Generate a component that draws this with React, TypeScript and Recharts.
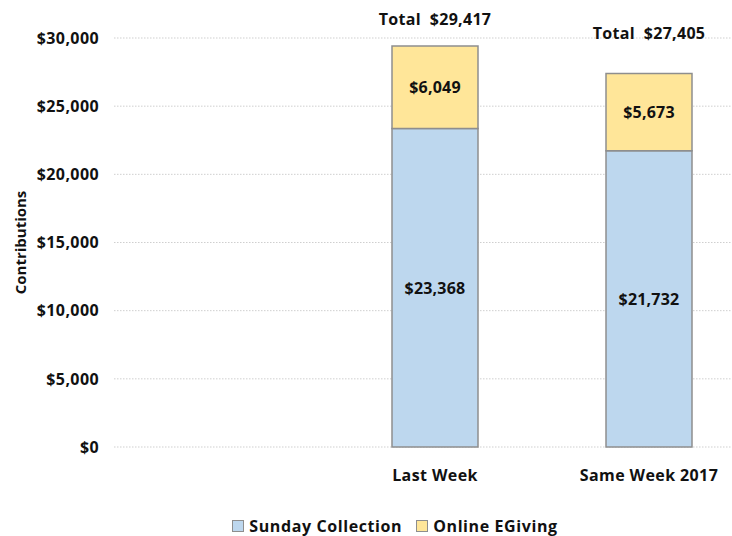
import React from 'react';
import { BarChart, Bar, XAxis, YAxis, CartesianGrid, Legend, LabelList } from 'recharts';

const categories = ['', 'Last Week', 'Same Week 2017'];
const sundayCollection: (number | null)[] = [null, 23368, 21732];
const onlineEGiving: (number | null)[] = [null, 6049, 5673];
const totals: (number | null)[] = [null, 29417, 27405];
const yTicks = [0, 5000, 10000, 15000, 20000, 25000, 30000];

// layout: how far each "Total" label sits above its bar (px), by category
const totalLabelLift = [0, 27, 40];

const FONT = "'Open Sans', 'Liberation Sans', sans-serif";
const BLUE = '#BDD7EE';
const YELLOW = '#FFE699';
const BORDER = '#8E8E8E';
const TEXT = '#111111';

const data = categories.map((c, i) => ({
  name: c,
  sunday: sundayCollection[i],
  online: onlineEGiving[i],
  total: totals[i],
}));

const money = (v: number) => '$' + v.toLocaleString('en-US');

const TotalLabel = (props: any) => {
  const { x, y, width, value } = props;
  if (value == null || x == null) return null;
  const ci = totals.indexOf(Number(value));
  const lift = totalLabelLift[ci] ?? 30;
  return (
    <text
      x={x + width / 2}
      y={y - lift}
      textAnchor="middle"
      dominantBaseline="central"
      fontFamily={FONT}
      fontWeight={700}
      fontSize={16}
      letterSpacing={0.3}
      fill={TEXT}
      style={{ whiteSpace: 'pre' }}
    >
      {'Total  ' + money(Number(value))}
    </text>
  );
};

const InnerLabel = (props: any) => {
  const { x, y, width, height, value } = props;
  if (value == null || x == null) return null;
  return (
    <text
      x={x + width / 2}
      y={y + height / 2}
      textAnchor="middle"
      dominantBaseline="central"
      fontFamily={FONT}
      fontWeight={700}
      fontSize={16}
      letterSpacing={0.2}
      fill={TEXT}
    >
      {money(Number(value))}
    </text>
  );
};

const LegendContent = () => (
  <div
    style={{
      display: 'flex',
      justifyContent: 'center',
      alignItems: 'center',
      fontFamily: FONT,
      fontWeight: 700,
      fontSize: 16,
      letterSpacing: 0.6,
      color: TEXT,
      height: 20,
    }}
  >
    {[
      { label: 'Sunday Collection', color: BLUE },
      { label: 'Online EGiving', color: YELLOW },
    ].map((it, i) => (
      <div key={i} style={{ display: 'flex', alignItems: 'center', marginRight: i === 0 ? 14 : 0 }}>
        <span
          style={{
            display: 'inline-block',
            width: 10,
            height: 10,
            background: it.color,
            border: `1px solid ${BORDER}`,
            marginRight: 5,
          }}
        />
        <span>{it.label}</span>
      </div>
    ))}
  </div>
);

const YTitle = (props: any) => {
  const vb = props.viewBox || {};
  const cy = (vb.y || 0) + (vb.height || 0) / 2;
  return (
    <text
      x={20}
      y={cy}
      transform={`rotate(-90, 20, ${cy})`}
      textAnchor="middle"
      dominantBaseline="central"
      fontFamily={FONT}
      fontWeight={700}
      fontSize={15}
      fill={TEXT}
    >
      Contributions
    </text>
  );
};

const tickStyle = { fontFamily: FONT, fontWeight: 700, fontSize: 16, fill: TEXT, letterSpacing: 0.4 };

export default function App() {
  return (
    <div
      style={{
        position: 'absolute',
        left: 0,
        top: 0,
        width: 732,
        height: 536,
        overflow: 'hidden',
        background: '#fff',
      }}
    >
      <BarChart
        width={760}
        height={536}
        data={data}
        margin={{ top: 38, right: 4, left: 0, bottom: 0 }}
        barSize={86}
      >
        <CartesianGrid vertical={false} stroke="#cfcfcf" strokeDasharray="1.5 1.5" />
        <XAxis
          dataKey="name"
          axisLine={false}
          tickLine={false}
          tickSize={0}
          tickMargin={23}
          height={69}
          interval={0}
          tick={tickStyle}
        />
        <YAxis
          width={114}
          domain={[0, 30000]}
          ticks={yTicks}
          axisLine={false}
          tickLine={false}
          tickSize={0}
          tickMargin={15}
          tickFormatter={(v: number) => money(v)}
          tick={tickStyle}
          label={<YTitle />}
        />
        <Legend
          verticalAlign="bottom"
          content={<LegendContent />}
          wrapperStyle={{ left: 0, width: 790, height: 20, bottom: 0 }}
        />
        <Bar dataKey="sunday" stackId="a" fill={BLUE} stroke={BORDER} strokeWidth={1.5} isAnimationActive={false}>
          <LabelList dataKey="sunday" content={<InnerLabel />} />
        </Bar>
        <Bar dataKey="online" stackId="a" fill={YELLOW} stroke={BORDER} strokeWidth={1.5} isAnimationActive={false}>
          <LabelList dataKey="online" content={<InnerLabel />} />
          <LabelList dataKey="total" content={<TotalLabel />} />
        </Bar>
      </BarChart>
    </div>
  );
}
